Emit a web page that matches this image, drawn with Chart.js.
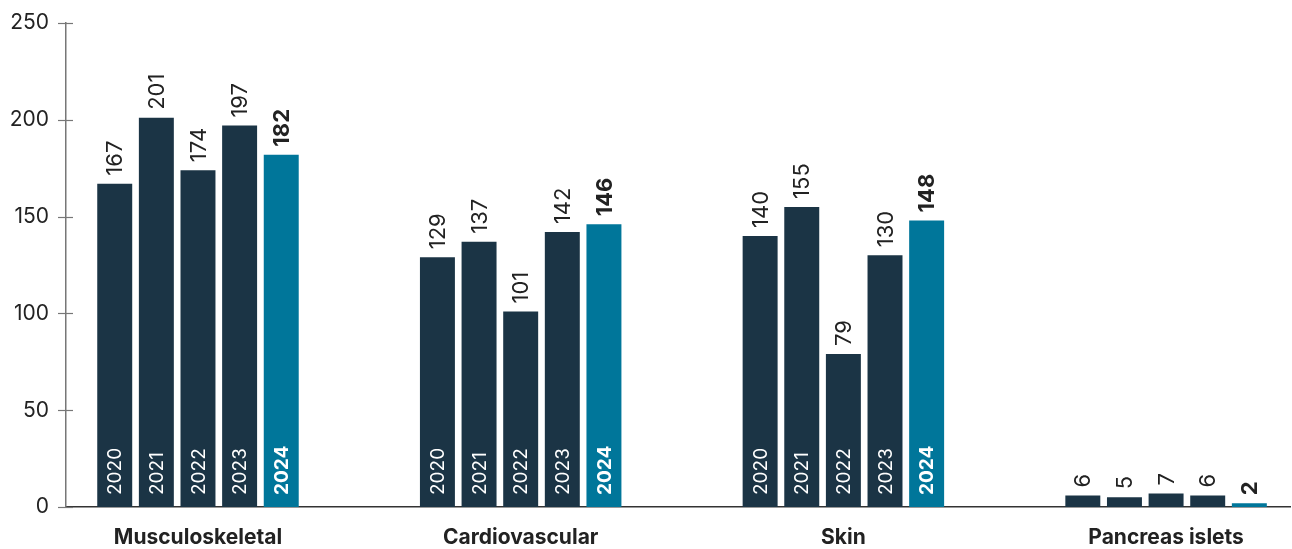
<!DOCTYPE html>
<html>
<head>
<meta charset="utf-8">
<script src="https://cdn.jsdelivr.net/npm/chart.js@4/dist/chart.umd.min.js"></script>
<style>
  html, body { margin: 0; padding: 0; background: #fff; }
  #wrap { width: 1292px; height: 549px; position: relative; }
</style>
</head>
<body>
<div id="wrap"><canvas id="chart"></canvas></div>
<script>
const categories = ['Musculoskeletal', 'Cardiovascular', 'Skin', 'Pancreas islets'];
const years = ['2020', '2021', '2022', '2023', '2024'];
const v2020 = [167, 129, 140, 6];
const v2021 = [201, 137, 155, 5];
const v2022 = [174, 101, 79, 7];
const v2023 = [197, 142, 130, 6];
const v2024 = [182, 146, 148, 2];
const yTicks = [0, 50, 100, 150, 200, 250];

const navy = '#1b3445';
const teal = '#00769a';
const textColor = '#222222';
const fontFamily = 'Inter, "Noto Sans", sans-serif';

const seriesValues = [v2020, v2021, v2022, v2023, v2024];
const lastYear = years.length - 1;

const datasets = years.map((year, i) => ({
  label: year,
  data: seriesValues[i].map((v, c) => ({ x: c, y: v })),
  backgroundColor: i === lastYear ? teal : navy,
  categoryPercentage: 0.645,
  barPercentage: 0.84
}));

// value above each bar, year inside it, category names under the axis
const barLabels = {
  id: 'barLabels',
  afterDatasetsDraw(chart) {
    const ctx = chart.ctx;
    const x = chart.scales.x;
    const y = chart.scales.y;
    ctx.save();
    chart.data.datasets.forEach((ds, i) => {
      const meta = chart.getDatasetMeta(i);
      const weight = i === lastYear ? '700' : '400';
      meta.data.forEach((bar, j) => {
        const value = ds.data[j].y;
        ctx.save();
        ctx.translate(bar.x, bar.y - 8);
        ctx.rotate(-Math.PI / 2);
        ctx.font = weight + ' 22px ' + fontFamily;
        ctx.fillStyle = textColor;
        ctx.textAlign = 'left';
        ctx.textBaseline = 'middle';
        ctx.fillText(String(value), 0, 1);
        ctx.restore();

        if (value > 30) {
          ctx.save();
          ctx.translate(bar.x, bar.base - 12);
          ctx.rotate(-Math.PI / 2);
          ctx.font = weight + ' 19px ' + fontFamily;
          ctx.fillStyle = '#ffffff';
          ctx.textAlign = 'left';
          ctx.textBaseline = 'middle';
          ctx.fillText(ds.label, 0, 1);
          ctx.restore();
        }
      });
    });

    ctx.font = '700 21px ' + fontFamily;
    ctx.fillStyle = textColor;
    ctx.textAlign = 'center';
    ctx.textBaseline = 'middle';
    categories.forEach((name, c) => {
      ctx.fillText(name, x.getPixelForValue(c), y.bottom + 31);
    });

    // tick marks crossing the y axis
    ctx.strokeStyle = '#777777';
    ctx.lineWidth = 1.2;
    y.ticks.forEach(t => {
      const py = Math.round(y.getPixelForValue(t.value)) + 0.5;
      ctx.beginPath();
      ctx.moveTo(y.right - 8, py);
      ctx.lineTo(y.right + 7, py);
      ctx.stroke();
    });
    ctx.restore();
  }
};

new Chart(document.getElementById('chart'), {
  type: 'bar',
  data: { datasets: datasets },
  options: {
    responsive: true,
    maintainAspectRatio: false,
    animation: false,
    layout: { padding: { top: 23, right: 2, left: 0, bottom: 0 } },
    plugins: {
      legend: { display: false },
      tooltip: { enabled: false }
    },
    scales: {
      x: {
        type: 'linear',
        bounds: 'data',
        offset: false,
        min: -0.409,
        max: 3.384,
        grid: { display: false, drawTicks: false },
        border: { display: true, color: '#333333', width: 1.5 },
        afterBuildTicks: s => { s.ticks = categories.map((c, i) => ({ value: i })); },
        ticks: { display: false },
        afterFit: s => { s.height = 42; s.paddingLeft = 0; s.paddingRight = 0; }
      },
      y: {
        min: 0,
        max: 250,
        grid: { display: false, drawTicks: false },
        border: { display: true, color: '#777777', width: 1.5 },
        afterBuildTicks: s => { s.ticks = yTicks.map(v => ({ value: v })); },
        ticks: {
          padding: 17,
          color: textColor,
          font: { family: fontFamily, size: 21, weight: '400' }
        },
        afterFit: s => { s.width = 66; s.paddingTop = 0; s.paddingBottom = 0; }
      }
    }
  },
  plugins: [barLabels]
});
</script>
</body>
</html>
